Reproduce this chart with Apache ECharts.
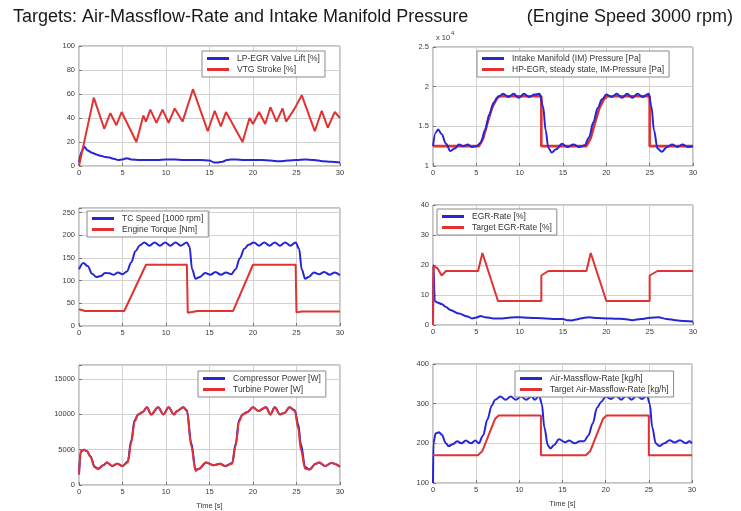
<!DOCTYPE html>
<html>
<head>
<meta charset="utf-8">
<script src="https://cdn.jsdelivr.net/npm/echarts@6/dist/echarts.min.js"></script>
<style>
  html, body { margin: 0; padding: 0; background: #ffffff; }
  #chart { width: 741px; height: 511px; }
</style>
</head>
<body>
<div id="chart"></div>
<script>
// ---- Panel 1: valve positions [%] ----
const egrLiftTime = [0, 0.3, 0.6, 1, 1.5, 2, 2.5, 3, 3.5, 4, 4.5, 5, 5.5, 6, 7, 8, 9, 10, 11, 12, 13, 14, 15, 15.5, 16, 16.5, 17, 17.5, 18, 19, 20, 21, 22, 23, 24, 25, 26, 27, 28, 29, 30];
const egrLift = [3, 12, 16, 13, 11, 9.5, 8.5, 7.5, 7, 6, 5, 5.5, 6.5, 5.5, 5, 5, 5, 5.5, 5.5, 5, 5, 5, 4.5, 3, 3, 3.5, 5, 5.5, 5.5, 5, 5, 5, 4.5, 4, 4.5, 5, 5.5, 5, 4, 3.5, 3];
const vtgTime = [0, 1.7, 2.9, 3.6, 4.3, 4.9, 6.6, 7.4, 7.7, 8.2, 8.9, 9.6, 10.3, 11.0, 11.9, 13.1, 14.8, 15.6, 16.3, 16.9, 18.8, 19.6, 20.0, 20.7, 21.4, 22.0, 22.7, 23.4, 23.8, 24.8, 25.6, 27.1, 27.9, 28.6, 29.4, 30];
const vtgStroke = [0, 57, 31, 44, 34, 45, 20, 42, 37, 47, 36, 47, 36, 48, 37, 64, 29, 46, 33, 45, 20, 40, 35, 45, 35, 49, 37, 48, 37, 48, 59, 29, 46, 32, 45, 40];

// ---- Panel 2: intake manifold pressure [Pa] ----
const imPressureTime = [0, 0.3, 0.6, 1.0, 1.5, 2.0, 2.5, 3.0, 3.5, 4.0, 4.5, 5.0, 5.5, 6.0, 6.5, 7.0, 7.5, 8.1, 8.7, 9.3, 9.9, 10.5, 11.1, 11.7, 12.3, 12.7, 13.0, 13.3, 13.7, 14.2, 14.9, 15.5, 16.2, 16.9, 17.5, 18.0, 18.5, 19.0, 19.5, 20.0, 20.6, 21.2, 21.8, 22.4, 23.0, 23.6, 24.2, 24.9, 25.2, 25.5, 25.9, 26.4, 27.0, 27.6, 28.2, 28.8, 29.4, 30];
const imPressure = [12500, 14200, 14600, 14000, 12800, 11900, 12200, 12700, 12500, 12700, 12400, 12500, 12900, 14500, 16500, 18000, 18700, 19100, 18700, 19100, 18600, 19100, 18700, 19000, 19100, 17500, 14500, 12300, 11700, 12100, 12800, 12400, 12700, 12400, 12600, 13600, 15500, 17300, 18400, 19000, 18700, 19100, 18600, 19100, 18600, 19100, 18700, 19100, 17500, 14500, 12200, 11800, 12400, 12700, 12400, 12700, 12400, 12500];
const imTargetTime = [0, 5.3, 5.8, 6.3, 6.8, 7.3, 7.6, 12.5, 12.5, 17.7, 18.2, 18.7, 19.2, 19.7, 20.1, 25.0, 25.0, 30];
const imTarget = [12500, 12500, 13500, 15500, 17300, 18400, 18800, 18800, 12500, 12500, 13500, 15500, 17300, 18400, 18800, 18800, 12500, 12500];

// ---- Panel 3: turbocharger speed and engine torque ----
const tcSpeedTime = [0, 0.5, 1, 1.5, 2, 2.5, 3, 3.5, 4, 4.5, 5, 5.5, 6, 6.5, 7, 7.5, 8.1, 8.7, 9.3, 9.9, 10.5, 11.1, 11.7, 12.4, 12.7, 13, 13.4, 13.9, 14.5, 15.1, 15.7, 16.3, 16.9, 17.5, 18, 18.5, 19, 19.5, 20.1, 20.7, 21.3, 21.9, 22.5, 23.1, 23.7, 24.3, 24.9, 25.3, 25.6, 26, 26.4, 27, 27.6, 28.2, 28.8, 29.4, 30];
const tcSpeed = [125, 139, 132, 115, 108, 110, 117, 116, 113, 118, 114, 120, 140, 165, 178, 184, 177, 184, 177, 184, 177, 184, 177, 184, 175, 125, 104, 108, 117, 113, 119, 113, 118, 114, 125, 150, 170, 179, 184, 177, 184, 177, 184, 177, 184, 177, 184, 170, 125, 104, 108, 118, 114, 119, 113, 118, 112];
const torqueTime = [0, 0.7, 1.5, 5.2, 7.7, 12.4, 12.5, 13.0, 13.6, 17.7, 20.0, 24.9, 25.0, 25.6, 30];
const torque = [37, 33, 33, 33, 135, 135, 29, 31, 33, 33, 135, 135, 30, 32, 32];

// ---- Panel 4: EGR rate [%] ----
const egrRateTime = [0, 0.05, 0.2, 0.5, 1, 1.5, 2, 3, 4, 4.5, 5, 5.5, 6, 7, 8, 9, 10, 11, 12, 13, 14, 15, 15.5, 16, 16.5, 17, 18, 19, 20, 21, 22, 23, 24, 25, 26, 27, 28, 29, 30];
const egrRate = [0, 20, 8, 7.5, 7, 6, 5, 3.8, 2.8, 2.2, 2.5, 3, 2.6, 2.2, 2.2, 2.5, 2.6, 2.4, 2.3, 2.2, 2.0, 2.0, 1.6, 1.5, 1.8, 2.2, 2.6, 2.3, 2.2, 2.1, 2.0, 1.6, 2.0, 2.4, 2.6, 2.0, 1.6, 1.3, 1.2];
const egrTargetTime = [0, 0.05, 0.5, 1.0, 1.5, 5.2, 5.7, 7.5, 12.5, 12.5, 13.3, 17.7, 18.2, 20.0, 25.0, 25.0, 25.9, 30];
const egrTarget = [0, 19.5, 19, 16.5, 18, 18, 24, 8, 8, 16.5, 18, 18, 24, 8, 8, 16.5, 18, 18];

// ---- Panel 5: turbocharger power [W] ----
const powerTime = [0, 0.2, 0.6, 0.9, 1.3, 1.8, 2.2, 2.8, 3.2, 3.8, 4.4, 5, 5.6, 6, 6.4, 6.8, 7.3, 7.8, 8.3, 9.1, 9.7, 10.3, 10.9, 11.3, 12, 12.4, 12.9, 13.4, 13.8, 14.6, 15.5, 16.2, 16.8, 17.6, 18, 18.4, 18.8, 19.3, 20, 20.6, 21.5, 22, 22.5, 23.1, 23.6, 24.2, 24.8, 25.2, 25.5, 26, 26.5, 27.2, 27.6, 28.3, 29, 30];
const compressorPower = [1500, 4700, 5000, 4800, 4100, 2600, 2300, 2800, 3200, 2700, 3000, 2700, 3300, 6300, 9200, 10000, 10300, 11000, 10000, 11000, 10000, 11000, 10000, 10500, 11000, 10600, 6000, 2200, 2300, 3200, 2800, 3000, 2700, 3100, 5800, 9200, 10000, 10300, 11000, 10500, 11000, 10000, 11000, 10000, 10200, 11000, 10600, 8600, 5800, 2500, 2200, 3000, 3200, 2700, 3100, 2600];
const turbinePower = [1500, 4800, 5000, 4800, 4000, 2500, 2300, 2800, 3200, 2700, 3000, 2700, 3200, 6000, 9000, 10000, 10300, 11000, 10000, 11000, 10000, 11000, 10000, 10500, 11000, 10500, 5500, 2000, 2300, 3200, 2800, 3000, 2700, 3000, 5500, 9000, 10000, 10300, 11000, 10500, 11000, 10000, 11000, 10000, 10200, 11000, 10500, 8000, 5000, 2300, 2200, 3000, 3200, 2700, 3100, 2600];

// ---- Panel 6: air mass flow [kg/h] ----
const airFlowTime = [0, 0.05, 0.3, 0.7, 1, 1.5, 1.8, 2.3, 2.8, 3.3, 3.8, 4.4, 4.9, 5.3, 5.8, 6.3, 6.8, 7.2, 7.8, 8.4, 9, 9.6, 10.2, 10.8, 11.4, 11.8, 12.3, 12.6, 12.9, 13.3, 13.6, 14, 14.6, 15.3, 15.8, 16.4, 17, 17.5, 18, 18.5, 19, 19.5, 20, 20.6, 21.2, 21.8, 22.4, 23, 23.6, 24.2, 24.8, 25.1, 25.4, 25.8, 26.2, 26.8, 27.4, 28, 28.6, 29.3, 29.7, 30];
const airFlow = [100, 200, 225, 228, 222, 200, 193, 198, 205, 200, 207, 200, 207, 200, 220, 260, 295, 310, 318, 310, 318, 310, 318, 310, 318, 310, 320, 300, 240, 195, 187, 195, 210, 203, 207, 200, 205, 205, 220, 250, 290, 305, 318, 312, 320, 310, 320, 310, 320, 312, 320, 300, 240, 200, 193, 200, 208, 202, 208, 200, 205, 200];
const airFlowTargetTime = [0, 5.2, 5.7, 7.2, 7.6, 12.5, 12.5, 17.7, 18.2, 19.7, 20.1, 25, 25, 30];
const airFlowTarget = [170, 170, 180, 262, 270, 270, 170, 170, 180, 262, 270, 270, 170, 170];

// ---- Axes ----
const timeRange = { min: 0, max: 30, interval: 5 };
const yRanges = [
  { min: 0, max: 100, interval: 20 },
  { min: 10000, max: 25000, interval: 5000 },
  { min: 0, max: 260, interval: 50 },
  { min: 0, max: 40, interval: 10 },
  { min: 0, max: 17000, interval: 5000 },
  { min: 100, max: 400, interval: 100 }
];

const BLUE = '#2626d8';
const RED = '#e23232';
const FONT = '"Liberation Sans", Arial, sans-serif';

const pairs = (t, v) => t.map((x, i) => [x, v[i]]);

const panels = [
  {
    grid: { left: 79, top: 46, width: 261, height: 120 },
    legend: { left: 202, top: 51 },
    lines: [
      { name: 'LP-EGR Valve Lift [%]', t: egrLiftTime, v: egrLift, color: BLUE, smooth: 0.3, z: 2 },
      { name: 'VTG Stroke [%]', t: vtgTime, v: vtgStroke, color: RED, smooth: false, z: 3 }
    ]
  },
  {
    grid: { left: 433, top: 47, width: 260, height: 119 },
    legend: { left: 477, top: 51 },
    yFormat: v => String(v / 10000),
    lines: [
      { name: 'Intake Manifold (IM) Pressure [Pa]', t: imPressureTime, v: imPressure, color: BLUE, smooth: 0.35, z: 4 },
      { name: 'HP-EGR, steady state, IM-Pressure [Pa]', t: imTargetTime, v: imTarget, color: RED, smooth: false, z: 3, width: 2.6 }
    ]
  },
  {
    grid: { left: 79, top: 208, width: 261, height: 118 },
    legend: { left: 87, top: 211 },
    lines: [
      { name: 'TC Speed [1000 rpm]', t: tcSpeedTime, v: tcSpeed, color: BLUE, smooth: 0.35, z: 3 },
      { name: 'Engine Torque [Nm]', t: torqueTime, v: torque, color: RED, smooth: false, z: 3 }
    ]
  },
  {
    grid: { left: 433, top: 205, width: 260, height: 120 },
    legend: { left: 437, top: 209 },
    lines: [
      { name: 'EGR-Rate [%]', t: egrRateTime, v: egrRate, color: BLUE, smooth: 0.3, z: 3 },
      { name: 'Target EGR-Rate [%]', t: egrTargetTime, v: egrTarget, color: RED, smooth: false, z: 3 }
    ]
  },
  {
    grid: { left: 79, top: 365, width: 261, height: 120 },
    legend: { left: 198, top: 371 },
    lines: [
      { name: 'Compressor Power [W]', t: powerTime, v: compressorPower, color: BLUE, smooth: 0.35, z: 3 },
      { name: 'Turbine Power [W]', t: powerTime, v: turbinePower, color: RED, smooth: 0.35, z: 4 }
    ],
    xName: 'Time [s]'
  },
  {
    grid: { left: 433, top: 364, width: 259, height: 119 },
    legend: { left: 515, top: 371 },
    lines: [
      { name: 'Air-Massflow-Rate [kg/h]', t: airFlowTime, v: airFlow, color: BLUE, smooth: 0.35, z: 3 },
      { name: 'Target Air-Massflow-Rate [kg/h]', t: airFlowTargetTime, v: airFlowTarget, color: RED, smooth: false, z: 3 }
    ],
    xName: 'Time [s]'
  }
];

const labelStyle = { fontFamily: FONT, fontSize: 7.5, color: '#3a3a3a' };
const gridLine = { show: true, lineStyle: { color: '#d2d2d2', width: 1, type: 'solid' } };

const option = {
  animation: false,
  backgroundColor: '#ffffff',
  textStyle: { fontFamily: FONT },
  title: [
    {
      text: 'Targets: Air-Massflow-Rate and Intake Manifold Pressure',
      left: 8, top: 3,
      textStyle: { fontFamily: FONT, fontSize: 18, fontWeight: 'normal', color: '#1a1a1a' }
    },
    {
      text: '(Engine Speed 3000 rpm)',
      right: 3, top: 3,
      textStyle: { fontFamily: FONT, fontSize: 18, fontWeight: 'normal', color: '#1a1a1a' }
    }
  ],
  grid: [], xAxis: [], yAxis: [], legend: [], series: [],
  graphic: [
    { type: 'text', left: 436, top: 34, style: { text: 'x 10', font: '7.5px ' + FONT, fill: '#3a3a3a' } },
    { type: 'text', left: 451, top: 30, style: { text: '4', font: '6px ' + FONT, fill: '#3a3a3a' } }
  ]
};

panels.forEach((p, i) => {
  option.grid.push(Object.assign({ show: true, borderColor: '#8a8a8a', borderWidth: 1, backgroundColor: '#ffffff' }, p.grid));
  const yr = yRanges[i];
  option.xAxis.push({
    type: 'value', gridIndex: i,
    min: timeRange.min, max: timeRange.max, interval: timeRange.interval,
    axisLine: { show: false },
    axisTick: { show: true, inside: true, length: 3, lineStyle: { color: '#777' } },
    axisLabel: Object.assign({ margin: 3 }, labelStyle),
    splitLine: gridLine,
    name: p.xName || '',
    nameLocation: 'middle', nameGap: 17,
    nameTextStyle: labelStyle
  });
  option.yAxis.push({
    type: 'value', gridIndex: i,
    min: yr.min, max: yr.max, interval: yr.interval,
    axisLine: { show: false },
    axisTick: { show: true, inside: true, length: 3, lineStyle: { color: '#777' } },
    axisLabel: Object.assign({
      margin: 4,
      formatter: v => ((v - yr.min) % yr.interval !== 0 ? '' : (p.yFormat ? p.yFormat(v) : String(v)))
    }, labelStyle),
    splitLine: gridLine
  });
  option.legend.push({
    orient: 'vertical',
    left: p.legend.left, top: p.legend.top,
    data: p.lines.map(l => l.name),
    backgroundColor: '#ffffff',
    borderColor: '#8a8a8a', borderWidth: 1, borderRadius: 0,
    padding: [3, 5, 3, 5],
    itemGap: 2, itemWidth: 22, itemHeight: 3,
    icon: 'rect',
    selectedMode: false,
    textStyle: { fontFamily: FONT, fontSize: 8.5, color: '#333', padding: [0, 0, 0, 3] }
  });
  p.lines.forEach(l => {
    option.series.push({
      type: 'line', name: l.name,
      xAxisIndex: i, yAxisIndex: i,
      data: pairs(l.t, l.v),
      showSymbol: false, symbol: 'none',
      smooth: l.smooth, smoothMonotone: l.smooth ? 'x' : undefined,
      z: l.z,
      lineStyle: { color: l.color, width: l.width || 2 },
      itemStyle: { color: l.color }
    });
  });
});

const chart = echarts.init(document.getElementById('chart'), null, { renderer: 'canvas' });
chart.setOption(option);
</script>
</body>
</html>
